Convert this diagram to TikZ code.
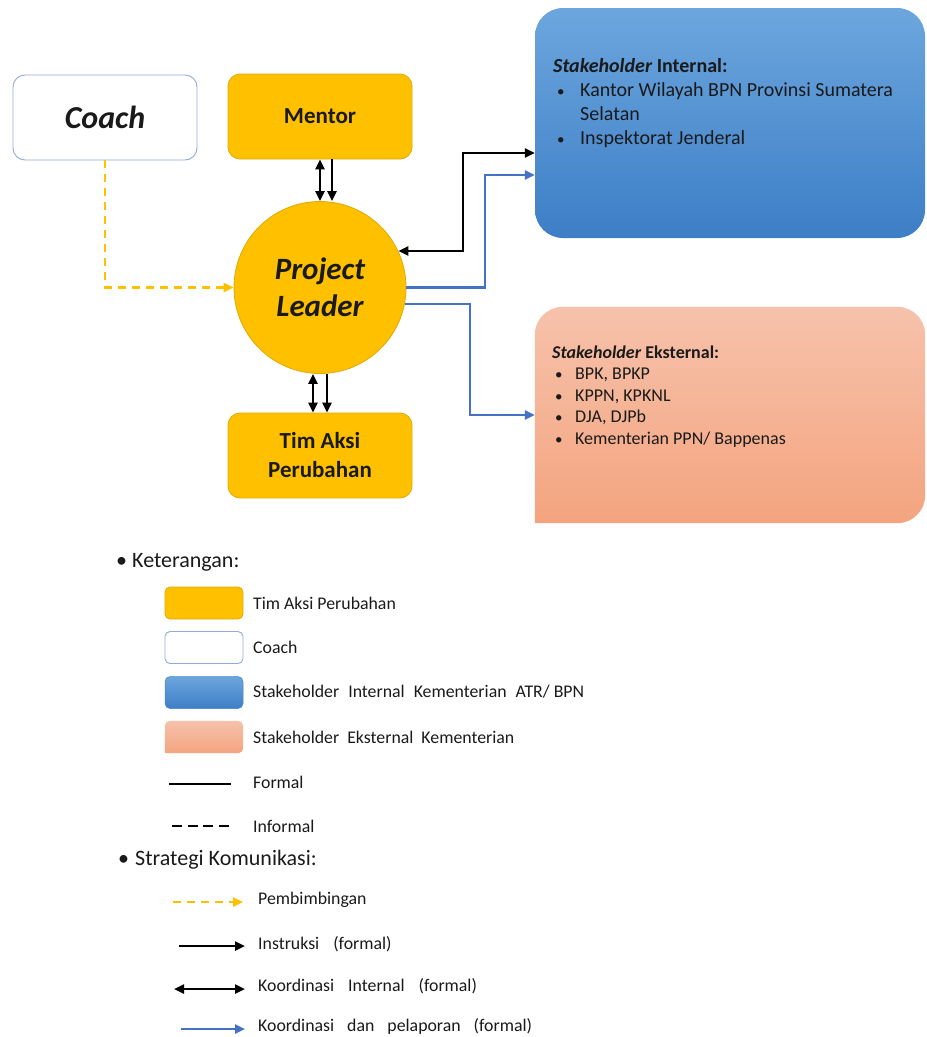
\documentclass[tikz,border=0pt]{standalone}
\usepackage{fontspec}
\setmainfont{Carlito}
\usetikzlibrary{arrows.meta}
\definecolor{gold}{HTML}{FFC000}
\definecolor{goldline}{HTML}{E0AA00}
\definecolor{coachline}{HTML}{8FAADC}
\definecolor{bluetop}{HTML}{6CA6DE}
\definecolor{bluebot}{HTML}{3D7EC6}
\definecolor{blueedge}{HTML}{4A86C8}
\definecolor{salmtop}{HTML}{F6C2AB}
\definecolor{salmbot}{HTML}{F4A47F}
\definecolor{linkblue}{HTML}{4472C4}
\definecolor{ink}{HTML}{1A1A1A}
\newcommand\fsz[2]{\fontsize{#1}{#2}\selectfont}
\newcommand\dotmark{{\fsz{15}{15}•}}
\begin{document}
\begin{tikzpicture}[x=1pt,y=-1pt,
  tri/.tip={Triangle[length=10pt,width=9pt]},
  box/.style={rectangle, rounded corners=12pt, minimum width=184pt, minimum height=85pt,
    inner sep=2pt, align=center, text=ink},
  teambox/.style={box, fill=gold, draw=goldline, line width=0.8pt},
  coachbox/.style={box, fill=white, draw=coachline, line width=0.9pt},
  hub/.style={circle, minimum size=172pt, inner sep=0pt, fill=gold, draw=goldline,
    line width=0.8pt, align=center, text=ink},
  formal/.style={draw=black, line width=2.4pt},
  one/.style={formal, -tri},
  two/.style={formal, tri-tri},
  report/.style={draw=linkblue, line width=2.3pt, -tri},
  guide/.style={draw=gold, line width=2.3pt, dash pattern=on 8pt off 6pt, -tri},
  sw/.style={rectangle, rounded corners=5pt, minimum width=78pt, minimum height=32pt, inner sep=0pt},
  lg/.style={anchor=west, inner sep=0pt, font=\fsz{17.8}{21}, text=ink},
  head/.style={anchor=west, inner sep=0pt, font=\fsz{22}{26}, text=ink},
]
\useasboundingbox (0,0) rectangle (927,1037);

% ---- main diagram ----
\node[coachbox, font=\fsz{32}{38}\bfseries\itshape] (coach) at (105,117.5) {Coach};
\node[teambox, font=\fsz{23}{28}\bfseries] (mentor) at (320,116.5) {Mentor};
\node[hub, font=\fsz{31}{37}\bfseries\itshape] (pl) at (320,287.5) {Project\\Leader};
\node[teambox, font=\fsz{23}{29}\bfseries] (tim) at (320,455.5) {Tim Aksi\\Perubahan};

% internal stakeholders
\node[rectangle, rounded corners=28pt, minimum width=390pt, minimum height=230pt,
  top color=bluetop, bottom color=bluebot, draw=none] (int) at (730,123) {};
\node[anchor=base west, inner sep=0pt, font=\fsz{20}{24}, text=ink] (inttxt) at (553,72)
  {\begin{tabular}[t]{@{}p{27pt}@{}l@{}}
    \multicolumn{2}{@{}l@{}}{\textbf{\textit{Stakeholder} Internal:}}\\
    \hspace{4pt}\dotmark & Kantor Wilayah BPN Provinsi Sumatera\\
     & Selatan\\
    \hspace{4pt}\dotmark & Inspektorat Jenderal
  \end{tabular}};

% external stakeholders: bottom-left corner left square (open path, filled)
\node[minimum width=390pt, minimum height=216pt, inner sep=0pt] (ext) at (730,415) {};
\shade[top color=salmtop, bottom color=salmbot] (ext.south west) [rounded corners=28pt]
  -- (ext.north west) -- (ext.north east) -- (ext.south east) -- (ext.south west);
\node[anchor=base west, inner sep=0pt, font=\fsz{18}{21.5}, text=ink] (exttxt) at (552,358)
  {\begin{tabular}[t]{@{}p{23pt}@{}l@{}}
    \multicolumn{2}{@{}l@{}}{\textbf{\textit{Stakeholder} Eksternal:}}\\
    \hspace{3pt}\dotmark & BPK, BPKP\\
    \hspace{3pt}\dotmark & KPPN, KPKNL\\
    \hspace{3pt}\dotmark & DJA, DJPb\\
    \hspace{3pt}\dotmark & Kementerian PPN/ Bappenas
  \end{tabular}};

% ---- connectors ----
\draw[two] (mentor.south) -- (mentor.south |- pl.north);
\draw[one] ([xshift=12pt]mentor.south) -- ([xshift=12pt]mentor.south |- pl.north);
\draw[two] ([xshift=-7pt]pl.south) -- ([xshift=-7pt]tim.north);
\draw[one] ([xshift=7pt]pl.south) -- ([xshift=7pt]tim.north);
\draw[guide] (coach.south) |- (pl.west);

\coordinate (kb) at (463,153);
\coordinate (kc) at (485,175);
\coordinate (kd) at (470,415);
\draw[two] (pl.25) -| (kb) -- (int.west |- kb);
\draw[report] (pl.east) -| (kc) -- (int.west |- kc);
\draw[report] (pl.-11) -| (kd) -- (ext.west |- kd);

% ---- legend ----
\node[head] (ket) at (116,562) {\makebox[16pt][l]{•}Keterangan:};

\node[sw, fill=gold, draw=goldline, line width=0.8pt] (sw1) at (204,603) {};
\node[sw, fill=white, draw=coachline, line width=0.9pt] (sw2) at (204,647.5) {};
\node[sw, top color=bluetop, bottom color=bluebot, draw=blueedge, line width=0.5pt] (sw3) at (204,692.5) {};
\node[sw, rounded corners=0pt] (sw4) at (204,737) {};
\shade[top color=salmtop, bottom color=salmbot] (sw4.south west) [rounded corners=5pt]
  -- (sw4.north west) -- (sw4.north east) -- (sw4.south east) -- (sw4.south west);

\node[lg] (t1) at (253,603) {Tim Aksi Perubahan};
\node[lg] (t2) at (253,647) {Coach};
\node[lg] (t3) at (253,692) {Stakeholder\hspace{5pt} Internal\hspace{5pt} Kementerian\hspace{5pt} ATR/ BPN};
\node[lg] (t4) at (253,737) {Stakeholder\hspace{4pt} Eksternal\hspace{4pt} Kementerian};

\coordinate (fa) at (169,784); \coordinate (fb) at (231,784);
\draw[draw=black, line width=2.6pt] (fa) -- (fb);
\node[lg] (t5) at (253,782) {Formal};
\coordinate (ia) at (172,826); \coordinate (ib) at (229,826);
\draw[draw=black, line width=2.6pt, dash pattern=on 10pt off 5.7pt] (ia) -- (ib);
\node[lg] (t6) at (253,826) {Informal};

\node[head] (strat) at (118,860) {\makebox[17pt][l]{•}Strategi Komunikasi:};

\coordinate (pa) at (173,902); \coordinate (pb) at (243,902);
\draw[guide] (pa) -- (pb);
\node[lg] (s1) at (258,900) {Pembimbingan};
\coordinate (na) at (179,946); \coordinate (nb) at (245,946);
\draw[one] (na) -- (nb);
\node[lg] (s2) at (258,944) {Instruksi\hspace{10pt} (formal)};
\coordinate (ka) at (174,989); \coordinate (kz) at (245,989);
\draw[two] (ka) -- (kz);
\node[lg] (s3) at (258,986) {Koordinasi\hspace{10pt} Internal\hspace{10pt} (formal)};
\coordinate (ra) at (181,1029); \coordinate (rb) at (245,1029);
\draw[report] (ra) -- (rb);
\node[lg] (s4) at (258,1026) {Koordinasi\hspace{9pt} dan\hspace{9pt} pelaporan\hspace{9pt} (formal)};
\end{tikzpicture}
\end{document}
